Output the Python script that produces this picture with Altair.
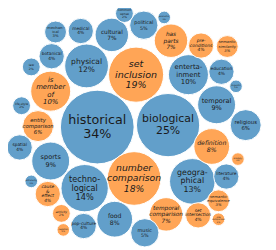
import altair as alt
import pandas as pd
import math

# Categories (label lines), percentage values and group (blue / orange)
names = ["historical", "biological", "set\ninclusion", "number\ncomparison", "techno-\nlogical",
         "geogra-\nphical", "physical", "enterta-\ninment", "is\nmember\nof", "sports", "temporal",
         "food", "definition", "entity\ncomparison", "cultural", "has\nparts", "temporal\ncomparison",
         "religious", "political", "music", "medical", "botanical", "education", "spatial",
         "pop-culture", "literature", "set\nintersection", "pre-\nconditions", "cause\n&\neffect",
         "mechan-\nical", "semantic\nsimilarity", "semantic\nequivalence", "law", "common\nsense",
         "life-style", "activity", "economic", "linguistic", "astronomy", "analogy", "negation",
         "size\ncomparison"]
values = [34, 25, 19, 18, 14, 13, 12, 10, 10, 9, 9, 8, 8, 6, 7, 7, 7, 6, 5, 5, 4, 4, 4, 4, 4, 4,
          4, 4, 4, 3, 3, 3, 2, 2, 2, 2, 1, 1, 1, 1, 1, 1]
groups = ["B", "B", "O", "O", "B", "B", "B", "B", "O", "B", "B", "B", "O", "O", "B", "O", "O",
          "B", "B", "B", "B", "B", "B", "B", "B", "B", "O", "O", "O", "B", "O", "O", "B", "B",
          "B", "O", "B", "B", "B", "O", "O", "O"]
# packed-bubble layout (unitless layout space)
layout_x = [100, 173, 140, 138, 87, 198, 89, 194, 52, 52, 223, 118, 218, 39, 115, 176, 171, 253,
            148, 149, 83, 53, 228, 20, 86, 233, 204, 207, 49, 57, 234, 225, 32, 128, 22, 63, 169,
            243, 32, 245, 65, 225]
layout_y = [127, 125, 73, 180, 190, 183, 64, 73, 90, 162, 104, 222, 147, 126, 32, 38, 217, 125,
            22, 236, 28, 54, 70, 148, 229, 178, 218, 43, 196, 29, 44, 203, 65, 10, 105, 216, 14,
            85, 183, 160, 233, 222]

VMAX = 34
RMAX = 38.0
FONT_K = 0.345
LINE_K = 1.1

bubbles = pd.DataFrame({"name": [n.replace("\n", " ") for n in names], "value": values,
                        "group": groups, "lx": layout_x, "ly": layout_y})

rows = []
for n, v, g, x, y in zip(names, values, groups, layout_x, layout_y):
    lines = n.split("\n") + [f"{v}%"]
    r = RMAX * math.sqrt(v / VMAX)
    fs = FONT_K * r
    lh = fs * LINE_K
    k = len(lines)
    for i, t in enumerate(lines):
        rows.append({"text": t, "lx": x, "ly": y + (i - (k - 1) / 2) * lh, "fs": fs,
                     "group": g})
labels = pd.DataFrame(rows)

W, H = 268, 242
xs = alt.Scale(domain=[8, 276])
ys = alt.Scale(domain=[250, 8])
col = alt.Scale(domain=["B", "O"], range=["#629fca", "#ffa556"])

circles = alt.Chart(bubbles).mark_circle(opacity=1, stroke="white", strokeWidth=1).encode(
    x=alt.X("lx:Q", scale=xs, axis=None),
    y=alt.Y("ly:Q", scale=ys, axis=None),
    size=alt.Size("value:Q", scale=alt.Scale(type="linear", domain=[0, VMAX],
                                             range=[0, 4 * RMAX * RMAX]), legend=None),
    color=alt.Color("group:N", scale=col, legend=None),
)

text_b = alt.Chart(labels).transform_filter(alt.datum.group == "B").mark_text(
    font="DejaVu Sans", baseline="middle", align="center", color="#1a1a1a").encode(
    x=alt.X("lx:Q", scale=xs, axis=None),
    y=alt.Y("ly:Q", scale=ys, axis=None),
    size=alt.Size("fs:Q", scale=None),
    text="text:N",
)
text_o = alt.Chart(labels).transform_filter(alt.datum.group == "O").mark_text(
    font="DejaVu Sans", fontStyle="italic", baseline="middle", align="center",
    color="#1a1a1a").encode(
    x=alt.X("lx:Q", scale=xs, axis=None),
    y=alt.Y("ly:Q", scale=ys, axis=None),
    size=alt.Size("fs:Q", scale=None),
    text="text:N",
)

chart = alt.layer(circles, text_b, text_o).properties(
    width=W, height=H, padding=0, autosize=alt.AutoSizeParams(type="none")
).configure_view(stroke=None)

chart.save("out.html", embed_options={"renderer": "svg", "actions": False})
